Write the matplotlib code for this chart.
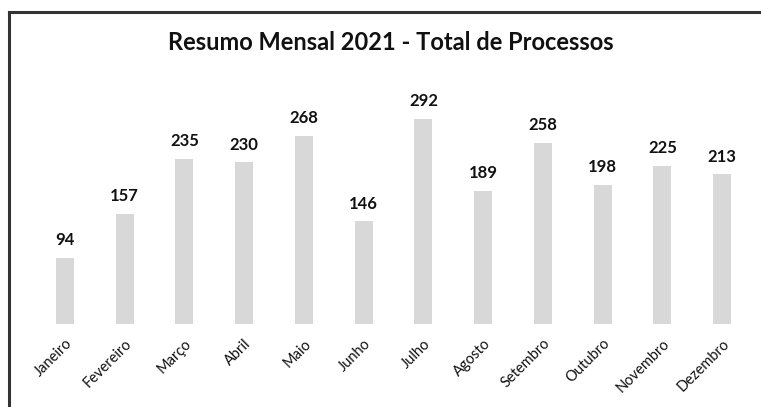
import matplotlib
matplotlib.use("Agg")
import matplotlib.pyplot as plt
from matplotlib.lines import Line2D

plt.rcParams["font.family"] = ["Lato", "DejaVu Sans"]

meses = ["Janeiro", "Fevereiro", "Março", "Abril", "Maio", "Junho",
         "Julho", "Agosto", "Setembro", "Outubro", "Novembro", "Dezembro"]
processos = [94, 157, 235, 230, 268, 146, 292, 189, 258, 198, 225, 213]

W, H = 761, 407
fig = plt.figure(figsize=(W / 100, H / 100), dpi=100)
fig.patch.set_facecolor("white")

# plot area in pixel terms
left, right = 35, 752
bottom, top = 324, 78
ax = fig.add_axes([left / W, 1 - bottom / H, (right - left) / W, (bottom - top) / H])

x = range(len(meses))
bars = ax.bar(x, processos, width=0.30, color="#d8d8d8")
for b, v in zip(bars, processos):
    ax.annotate(str(v), xy=(b.get_x() + b.get_width() / 2, v),
                xytext=(0, 7), textcoords="offset points",
                ha="center", va="bottom", fontsize=12, fontweight="bold",
                color="#111111")

ax.set_xlim(-0.5, len(meses) - 0.5)
ax.set_ylim(0, 350)
ax.set_xticks(list(x))
ax.set_xticklabels(meses, rotation=45, ha="right", rotation_mode="anchor",
                   fontsize=10.5, color="#111111")
ax.tick_params(axis="x", length=0, pad=9)
ax.set_yticks([])
for s in ax.spines.values():
    s.set_visible(False)

fig.text(391 / W, 1 - 43 / H, "Resumo Mensal 2021 - Total de Processos",
         ha="center", va="center", fontsize=17, fontweight="bold",
         color="#111111")

# frame lines on top and left
fig.add_artist(Line2D([9 / W, 1], [1 - 11.5 / H] * 2, color="#333333", lw=2.2,
                      transform=fig.transFigure))
fig.add_artist(Line2D([9 / W] * 2, [0, 1 - 11.5 / H], color="#333333", lw=2.2,
                      transform=fig.transFigure))

fig.savefig("out.png", dpi=100)
